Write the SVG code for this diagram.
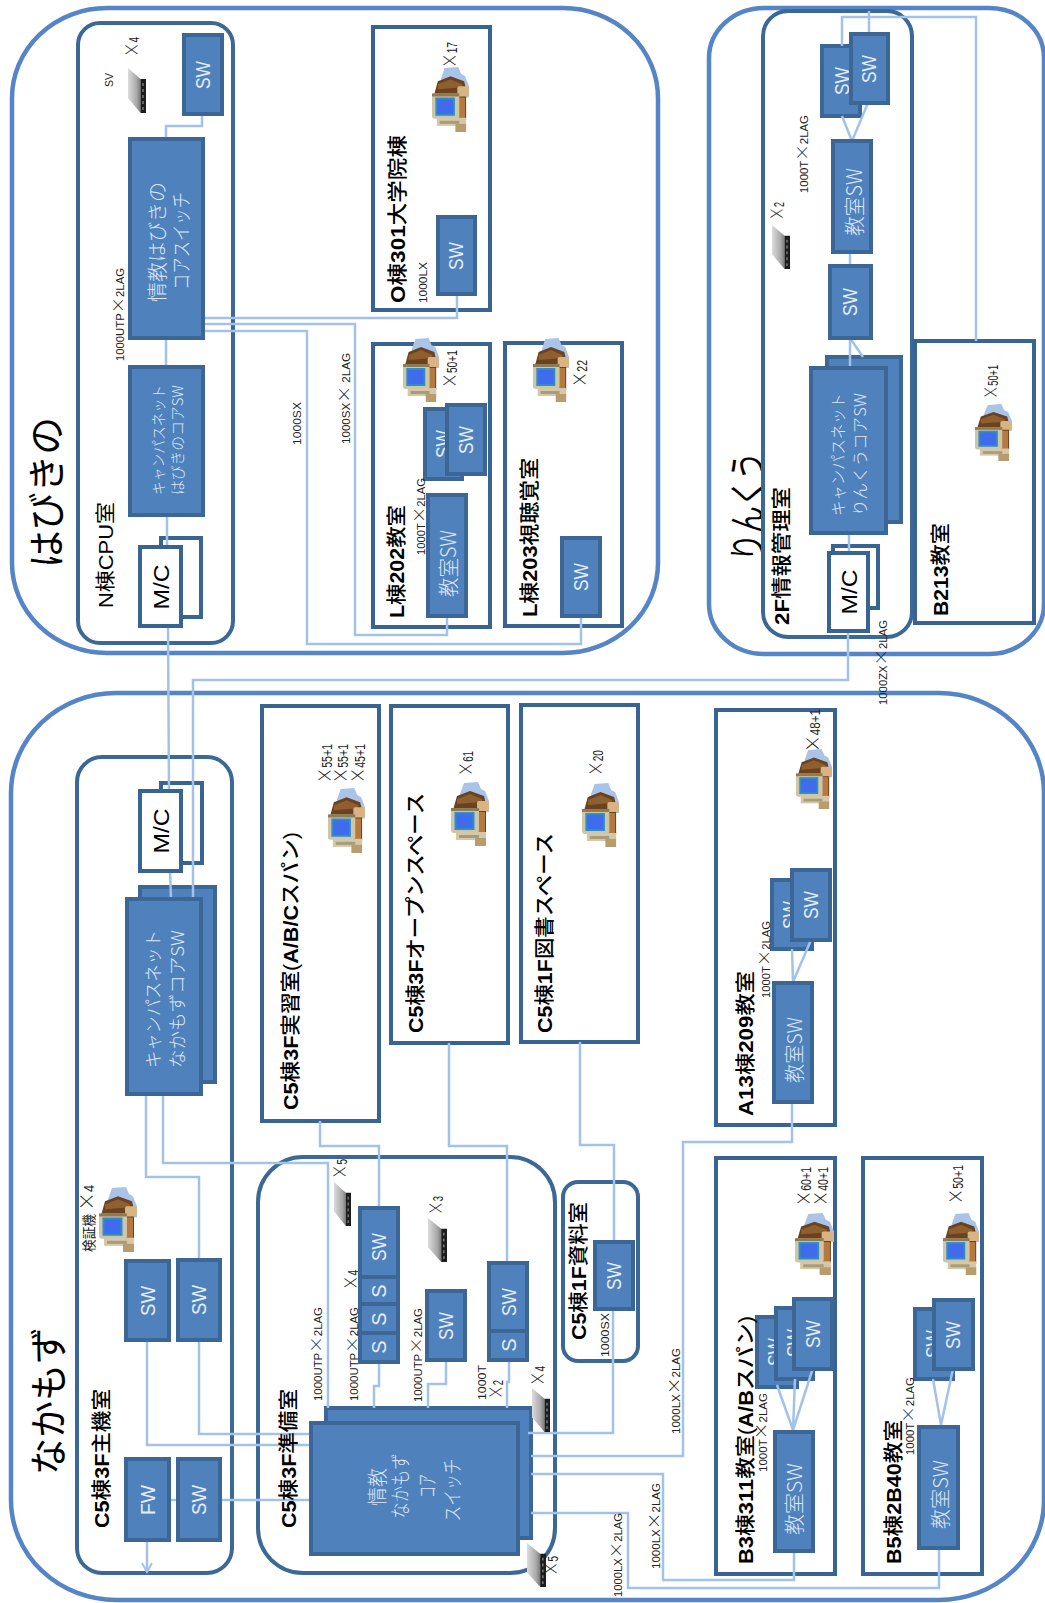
<svg xmlns="http://www.w3.org/2000/svg" width="1045" height="1603" viewBox="0 0 1045 1603">
<style>
text{font-family:"Liberation Sans","Noto Sans CJK JP",sans-serif;fill:#000}
.o{fill:none;stroke:#5585c6;stroke-width:4.500}
.r{fill:none;stroke:#3c6896;stroke-width:4}
.d{fill:#fff;stroke:#386494;stroke-width:4}
.b{fill:#4f81bd;stroke:#3b6696;stroke-width:4}
.w{fill:#fff;stroke:#386494;stroke-width:4}
.l{fill:none;stroke:#a2c2ea;stroke-width:2.500}
.t{font-size:38px;font-family:"Noto Sans CJK JP",sans-serif}
.h{font-size:20px;font-weight:500}
.n{font-size:20px}
.L{font-weight:700}
.s{font-size:11px;fill:#222}
.x{font-size:14px;fill:#222}
.k{font-size:1.450em;font-family:"Noto Sans CJK JP",sans-serif;font-weight:300}
.a{font-size:20px;fill:#e4edf8;text-anchor:middle}
.c{font-size:17px;fill:#dde8f5;font-family:"Noto Sans CJK JP",sans-serif;font-weight:300}
.m{font-size:22px;text-anchor:middle}
</style>
<defs>
<linearGradient id="sg" x1="0" x2="1" y1="0" y2="0"><stop offset="0" stop-color="#dcdcdc"/><stop offset="0.700" stop-color="#a8a8a8"/><stop offset="1" stop-color="#7a7a7a"/></linearGradient>
<symbol id="pc" viewBox="0 0 40 64" preserveAspectRatio="none">
<polygon points="14,1 28,0 31,7 35,9 39,19 39,30 20,30 10,12" fill="#a9c4e8"/>
<polygon points="3,28 7,14 20,9 34,14 36,22 36,52 14,52 3,40" fill="#6b4220"/>
<polygon points="7,17 20,12 32,17 32,20 7,22" fill="#8f5f30"/>
<rect x="27" y="19" width="12" height="10" rx="2" fill="#d8b384"/>
<rect x="28" y="30" width="7" height="21" fill="#b57a3f"/>
<rect x="1" y="26" width="28" height="25" rx="3" fill="#cfc6a8"/>
<rect x="1" y="26" width="28" height="3" fill="#8f7a52"/>
<rect x="4.500" y="30" width="20" height="18" fill="#2d8fc5"/>
<rect x="6.500" y="32" width="16" height="14" fill="#3f6bec"/>
<rect x="6" y="50" width="30" height="8" fill="#d4c8a8"/>
<rect x="9" y="53" width="20" height="3" fill="#a89c7c"/>
<rect x="25" y="56" width="11" height="8" fill="#b99c6e"/>
</symbol>
<symbol id="sv" viewBox="0 0 18 45" preserveAspectRatio="none">
<polygon points="0,0 12.500,11 12.500,45 0,30" fill="url(#sg)"/>
<polygon points="12.500,11 18,11 18,45 12.500,45" fill="#1c1c1c"/>
<path d="M15,15V42" stroke="#777" stroke-width="1.500" stroke-dasharray="3 3" fill="none"/>
</symbol>
<marker id="ah" viewBox="0 0 12 12" refX="10" refY="6" markerWidth="12" markerHeight="12" markerUnits="userSpaceOnUse" orient="auto"><path d="M1,1 L10,6 L1,11" fill="none" stroke="#a2c2ea" stroke-width="2"/></marker>
</defs>
<rect width="1045" height="1603" fill="#fff"/>

<g id="area-habikino"><rect class="o" x="12" y="8" width="646" height="645" rx="95" ry="90"/><text class="t" transform="translate(60 568) rotate(-90)" textLength="151" lengthAdjust="spacingAndGlyphs">はびきの</text></g>
<g id="area-rinku"><rect class="o" x="709" y="8" width="335" height="646" rx="55" ry="50"/><text class="t" transform="translate(761 561) rotate(-90)" textLength="109" lengthAdjust="spacingAndGlyphs">りんくう</text></g>
<g id="area-nakamozu"><rect class="o" x="11" y="693" width="1033" height="907" rx="105" ry="100"/><text class="t" transform="translate(62 1475) rotate(-90)" textLength="148" lengthAdjust="spacingAndGlyphs">なかもず</text></g>

<g id="room-n"><rect class="r" x="78" y="23" width="155" height="620" rx="22"/></g>
<g id="room-2f"><rect class="r" x="763" y="11" width="149" height="626" rx="25"/></g>
<g id="room-c5main"><rect class="r" x="77" y="757" width="155" height="816" rx="25"/></g>
<g id="room-c5prep"><rect class="r" x="258" y="1157" width="297" height="416" rx="45"/></g>
<g id="room-c5mat"><rect class="r" x="563" y="1182" width="75" height="179" rx="15"/></g>
<g id="room-o"><rect class="d" x="373" y="27" width="117" height="283"/></g>
<g id="room-l202"><rect class="d" x="373" y="344" width="117" height="283"/></g>
<g id="room-l203"><rect class="d" x="505" y="343" width="117" height="283"/></g>
<g id="room-b213"><rect class="d" x="915" y="341" width="119" height="282"/></g>
<g id="room-jisshu"><rect class="d" x="262" y="706" width="117" height="415"/></g>
<g id="room-open"><rect class="d" x="391" y="706" width="117" height="337"/></g>
<g id="room-lib"><rect class="d" x="521" y="705" width="117" height="337"/></g>
<g id="room-a13"><rect class="d" x="716" y="710" width="119" height="415"/></g>
<g id="room-b3"><rect class="d" x="716" y="1158" width="119" height="416"/></g>
<g id="room-b5"><rect class="d" x="863" y="1158" width="119" height="416"/></g>

<g id="rear-mc-hab"><rect class="w" x="161" y="538" width="40" height="79"/></g>
<g id="rear-mc-naka"><rect class="w" x="161" y="783" width="41" height="80"/></g>
<g id="rear-mc-rin"><rect class="w" x="833" y="546" width="45" height="62"/></g>
<g id="rear-campus-naka"><rect class="b" x="140" y="887" width="75" height="195"/></g>
<g id="rear-campus-rin"><rect class="b" x="827" y="357" width="74" height="165"/></g>
<g id="rear-core-naka"><rect class="b" x="326" y="1408" width="205" height="130"/></g>
<g id="rear-sw-l202"><rect class="b" x="425" y="409" width="37" height="70"/><text class="a" transform="translate(450 444) rotate(-90)" textLength="28" lengthAdjust="spacingAndGlyphs">SW</text></g>
<g id="rear-sw-rin"><rect class="b" x="822" y="46" width="38" height="70"/><text class="a" transform="translate(849 81) rotate(-90)" textLength="28" lengthAdjust="spacingAndGlyphs">SW</text></g>
<g id="rear-sw-a13"><rect class="b" x="772" y="880" width="40" height="69"/><text class="a" transform="translate(797 915) rotate(-90)" textLength="28" lengthAdjust="spacingAndGlyphs">SW</text></g>
<g id="rear-sw-b3a"><rect class="b" x="757" y="1317" width="40" height="70"/><text class="a" transform="translate(782 1352) rotate(-90)" textLength="28" lengthAdjust="spacingAndGlyphs">SW</text></g>
<g id="rear-sw-b3b"><rect class="b" x="776" y="1308" width="37" height="71"/><text class="a" transform="translate(801 1343) rotate(-90)" textLength="28" lengthAdjust="spacingAndGlyphs">SW</text></g>
<g id="rear-sw-b5"><rect class="b" x="915" y="1309" width="38" height="70"/><text class="a" transform="translate(940 1344) rotate(-90)" textLength="28" lengthAdjust="spacingAndGlyphs">SW</text></g>

<g id="connectors">
<path class="l" d="M202,114V126H166V139"/>
<path class="l" d="M166,338V367"/>
<path class="l" d="M167,515V547"/>
<path class="l" d="M168,626L169,791M170,871L171,899"/>
<path class="l" d="M203,318H457V293"/>
<path class="l" d="M203,324H355V635H447V615"/>
<path class="l" d="M203,331H307V644H581V615"/>
<path class="l" d="M869,34V11"/>
<path class="l" d="M842,46V17H976V341"/>
<path class="l" d="M842,116L852,141L868,103"/>
<path class="l" d="M850,252V266"/>
<path class="l" d="M850,338V368M850,338L863,357"/>
<path class="l" d="M849,533V553"/>
<path class="l" d="M848,631V680H193V899"/>
<path class="l" d="M146,1094V1177H199V1260"/>
<path class="l" d="M163,1094V1163H328V1408"/>
<path class="l" d="M147,1340V1445H311"/>
<path class="l" d="M199,1340V1434H311"/>
<path class="l" d="M169,1500H178M220,1500H311"/>
<path class="l" d="M147,1540V1572" marker-end="url(#ah)"/>
<path class="l" d="M379,1362V1386H374V1408"/>
<path class="l" d="M446,1360V1384H428V1408"/>
<path class="l" d="M509,1360V1382H507V1408"/>
<path class="l" d="M320,1121V1146H379V1208"/>
<path class="l" d="M449,1043V1146H507V1263"/>
<path class="l" d="M580,1042V1145H614V1242"/>
<path class="l" d="M613,1309V1433H528"/>
<path class="l" d="M531,1456H683V1142H792V1102"/>
<path class="l" d="M531,1474H663V1580H794V1551"/>
<path class="l" d="M531,1513H628V1588H939V1548"/>
<path class="l" d="M792,949L793,982L811,940"/>
<path class="l" d="M777,1385L793,1430L795,1379M793,1430L813,1368"/>
<path class="l" d="M933,1379L941,1425L953,1369"/>
</g>

<g id="sw-n"><rect class="b" x="184" y="35" width="38" height="79"/><text class="a" transform="translate(210 75) rotate(-90)" textLength="28" lengthAdjust="spacingAndGlyphs">SW</text></g>
<g id="core-hab"><rect class="b" x="130" y="139" width="73" height="199"/><text class="c" style="font-size:20px" transform="translate(165 302) rotate(-90)" textLength="120" lengthAdjust="spacingAndGlyphs">情教はびきの</text><text class="c" style="font-size:20px" transform="translate(189 290) rotate(-90)" textLength="98" lengthAdjust="spacingAndGlyphs">コアスイッチ</text></g>
<g id="campus-hab"><rect class="b" x="130" y="367" width="73" height="148"/><text class="c" style="font-size:15px" transform="translate(164 495) rotate(-90)" textLength="110" lengthAdjust="spacingAndGlyphs">キャンパスネット</text><text class="c" style="font-size:15px" transform="translate(183 495) rotate(-90)" textLength="110" lengthAdjust="spacingAndGlyphs">はびきのコアSW</text></g>
<g id="mc-hab"><rect class="w" x="140" y="547" width="41" height="79"/><text class="m" transform="translate(169 587) rotate(-90)" textLength="45" lengthAdjust="spacingAndGlyphs">M/C</text></g>
<g id="sw-o"><rect class="b" x="438" y="217" width="37" height="77"/><text class="a" transform="translate(463 256) rotate(-90)" textLength="28" lengthAdjust="spacingAndGlyphs">SW</text></g>
<g id="sw-l202"><rect class="b" x="447" y="405" width="38" height="69"/><text class="a" transform="translate(473 440) rotate(-90)" textLength="28" lengthAdjust="spacingAndGlyphs">SW</text></g>
<g id="csw-l202"><rect class="b" x="428" y="495" width="38" height="121"/><text class="c" style="font-size:21px" transform="translate(456 597) rotate(-90)" textLength="67" lengthAdjust="spacingAndGlyphs">教室SW</text></g>
<g id="sw-l203"><rect class="b" x="562" y="538" width="38" height="78"/><text class="a" transform="translate(588 577) rotate(-90)" textLength="28" lengthAdjust="spacingAndGlyphs">SW</text></g>

<g id="sw-rin1"><rect class="b" x="851" y="34" width="37" height="69"/><text class="a" transform="translate(876 69) rotate(-90)" textLength="28" lengthAdjust="spacingAndGlyphs">SW</text></g>
<g id="csw-rin"><rect class="b" x="833" y="141" width="38" height="111"/><text class="c" style="font-size:21px" transform="translate(862 236) rotate(-90)" textLength="68" lengthAdjust="spacingAndGlyphs">教室SW</text></g>
<g id="sw-rin2"><rect class="b" x="830" y="266" width="41" height="72"/><text class="a" transform="translate(857 302) rotate(-90)" textLength="28" lengthAdjust="spacingAndGlyphs">SW</text></g>
<g id="campus-rin"><rect class="b" x="811" y="368" width="75" height="165"/><text class="c" style="font-size:16px" transform="translate(844 516) rotate(-90)" textLength="123" lengthAdjust="spacingAndGlyphs">キャンパスネット</text><text class="c" style="font-size:16px" transform="translate(866 516) rotate(-90)" textLength="123" lengthAdjust="spacingAndGlyphs">りんくうコアSW</text></g>
<g id="mc-rin"><rect class="w" x="829" y="553" width="39" height="78"/><text class="m" transform="translate(857 592) rotate(-90)" textLength="45" lengthAdjust="spacingAndGlyphs">M/C</text></g>

<g id="mc-naka"><rect class="w" x="140" y="791" width="41" height="80"/><text class="m" transform="translate(169 831) rotate(-90)" textLength="45" lengthAdjust="spacingAndGlyphs">M/C</text></g>
<g id="campus-naka"><rect class="b" x="127" y="899" width="74" height="195"/><text class="c" style="font-size:18px" transform="translate(160 1068) rotate(-90)" textLength="138" lengthAdjust="spacingAndGlyphs">キャンパスネット</text><text class="c" style="font-size:18px" transform="translate(184 1068) rotate(-90)" textLength="138" lengthAdjust="spacingAndGlyphs">なかもずコアSW</text></g>
<g id="sw-m1"><rect class="b" x="126" y="1261" width="43" height="79"/><text class="a" transform="translate(155 1301) rotate(-90)" textLength="30" lengthAdjust="spacingAndGlyphs">SW</text></g>
<g id="sw-m2"><rect class="b" x="178" y="1260" width="42" height="80"/><text class="a" transform="translate(206 1300) rotate(-90)" textLength="30" lengthAdjust="spacingAndGlyphs">SW</text></g>
<g id="fw"><rect class="b" x="126" y="1459" width="43" height="81"/><text class="a" transform="translate(155 1500) rotate(-90)" textLength="30" lengthAdjust="spacingAndGlyphs">FW</text></g>
<g id="sw-m3"><rect class="b" x="178" y="1459" width="42" height="81"/><text class="a" transform="translate(206 1500) rotate(-90)" textLength="30" lengthAdjust="spacingAndGlyphs">SW</text></g>
<g id="core-naka"><rect class="b" x="311" y="1423" width="207" height="131"/>
<text class="c" style="font-size:20px;text-anchor:middle" transform="translate(385 1487) rotate(-90)" textLength="38" lengthAdjust="spacingAndGlyphs">情教</text>
<text class="c" style="font-size:20px;text-anchor:middle" transform="translate(408 1486) rotate(-90)" textLength="65" lengthAdjust="spacingAndGlyphs">なかもず</text>
<text class="c" style="font-size:20px;text-anchor:middle" transform="translate(435 1486) rotate(-90)" textLength="24" lengthAdjust="spacingAndGlyphs">コア</text>
<text class="c" style="font-size:20px;text-anchor:middle" transform="translate(460 1490) rotate(-90)" textLength="63" lengthAdjust="spacingAndGlyphs">スイッチ</text></g>
<g id="stack-1"><rect class="b" x="360" y="1208" width="38" height="154"/><path class="b" style="fill:none" d="M360,1277H398M360,1304H398M360,1333H398"/><text class="a" transform="translate(386 1247) rotate(-90)" textLength="28" lengthAdjust="spacingAndGlyphs">SW</text><text class="a" transform="translate(386 1291) rotate(-90)">S</text><text class="a" transform="translate(386 1319) rotate(-90)">S</text><text class="a" transform="translate(386 1347) rotate(-90)">S</text></g>
<g id="sw-prep"><rect class="b" x="427" y="1291" width="38" height="69"/><text class="a" transform="translate(453 1326) rotate(-90)" textLength="28" lengthAdjust="spacingAndGlyphs">SW</text></g>
<g id="stack-2"><rect class="b" x="489" y="1263" width="38" height="97"/><path class="b" style="fill:none" d="M489,1331H527"/><text class="a" transform="translate(516 1302) rotate(-90)" textLength="28" lengthAdjust="spacingAndGlyphs">SW</text><text class="a" transform="translate(516 1345) rotate(-90)">S</text></g>
<g id="sw-mat"><rect class="b" x="595" y="1242" width="38" height="67"/><text class="a" transform="translate(621 1276) rotate(-90)" textLength="28" lengthAdjust="spacingAndGlyphs">SW</text></g>
<g id="sw-a13"><rect class="b" x="792" y="870" width="38" height="70"/><text class="a" transform="translate(818 905) rotate(-90)" textLength="28" lengthAdjust="spacingAndGlyphs">SW</text></g>
<g id="csw-a13"><rect class="b" x="774" y="983" width="38" height="119"/><text class="c" style="font-size:20px" transform="translate(802 1083) rotate(-90)" textLength="66" lengthAdjust="spacingAndGlyphs">教室SW</text></g>
<g id="sw-b3"><rect class="b" x="794" y="1299" width="38" height="70"/><text class="a" transform="translate(820 1334) rotate(-90)" textLength="28" lengthAdjust="spacingAndGlyphs">SW</text></g>
<g id="csw-b3"><rect class="b" x="775" y="1432" width="38" height="119"/><text class="c" style="font-size:20px" transform="translate(802 1535) rotate(-90)" textLength="72" lengthAdjust="spacingAndGlyphs">教室SW</text></g>
<g id="sw-b5"><rect class="b" x="934" y="1300" width="39" height="69"/><text class="a" transform="translate(960 1335) rotate(-90)" textLength="28" lengthAdjust="spacingAndGlyphs">SW</text></g>
<g id="csw-b5"><rect class="b" x="919" y="1427" width="39" height="121"/><text class="c" style="font-size:20px" transform="translate(948 1529) rotate(-90)" textLength="69" lengthAdjust="spacingAndGlyphs">教室SW</text></g>

<g id="pcs">
<use href="#pc" x="431" y="67" width="39" height="65"/>
<use href="#pc" x="402" y="338" width="38" height="64"/>
<use href="#pc" x="532" y="338" width="38" height="64"/>
<use href="#pc" x="974" y="404" width="39" height="57"/>
<use href="#pc" x="327" y="788" width="39" height="65"/>
<use href="#pc" x="450" y="782" width="40" height="64"/>
<use href="#pc" x="581" y="783" width="39" height="64"/>
<use href="#pc" x="795" y="749" width="38" height="60"/>
<use href="#pc" x="794" y="1213" width="41" height="62"/>
<use href="#pc" x="942" y="1213" width="38" height="62"/>
<use href="#pc" x="98" y="1187" width="40" height="65"/>
</g>
<g id="servers">
<use href="#sv" x="128" y="68" width="18" height="45"/>
<use href="#sv" x="772" y="225" width="18" height="44"/>
<use href="#sv" x="334" y="1182" width="17" height="44"/>
<use href="#sv" x="428" y="1218" width="19" height="44"/>
<use href="#sv" x="532" y="1388" width="18" height="44"/>
<use href="#sv" x="527" y="1543" width="19" height="44"/>
</g>

<g id="labels">
<text class="n" transform="translate(113 608) rotate(-90)" textLength="106" lengthAdjust="spacingAndGlyphs">N棟CPU室</text>
<text class="h" transform="translate(405 303) rotate(-90)" textLength="168" lengthAdjust="spacingAndGlyphs"><tspan class="L">O</tspan>棟<tspan class="L">301</tspan>大学院棟</text>
<text class="h" transform="translate(404 618) rotate(-90)" textLength="113" lengthAdjust="spacingAndGlyphs"><tspan class="L">L</tspan>棟<tspan class="L">202</tspan>教室</text>
<text class="h" transform="translate(537 617) rotate(-90)" textLength="159" lengthAdjust="spacingAndGlyphs"><tspan class="L">L</tspan>棟<tspan class="L">203</tspan>視聴覚室</text>
<text class="h" transform="translate(789 625) rotate(-90)" textLength="138" lengthAdjust="spacingAndGlyphs"><tspan class="L">2F</tspan>情報管理室</text>
<text class="h" transform="translate(948 616) rotate(-90)" textLength="93" lengthAdjust="spacingAndGlyphs"><tspan class="L">B213</tspan>教室</text>
<text class="h" transform="translate(109 1528) rotate(-90)" textLength="139" lengthAdjust="spacingAndGlyphs"><tspan class="L">C5</tspan>棟<tspan class="L">3F</tspan>主機室</text>
<text class="h" transform="translate(296 1528) rotate(-90)" textLength="139" lengthAdjust="spacingAndGlyphs"><tspan class="L">C5</tspan>棟<tspan class="L">3F</tspan>準備室</text>
<text class="h" transform="translate(298 1110) rotate(-90)" textLength="278" lengthAdjust="spacingAndGlyphs"><tspan class="L">C5</tspan>棟<tspan class="L">3F</tspan>実習室(<tspan class="L">A/B/C</tspan>スパン)</text>
<text class="h" transform="translate(423 1033) rotate(-90)" textLength="240" lengthAdjust="spacingAndGlyphs"><tspan class="L">C5</tspan>棟<tspan class="L">3F</tspan>オープンスペース</text>
<text class="h" transform="translate(552 1033) rotate(-90)" textLength="200" lengthAdjust="spacingAndGlyphs"><tspan class="L">C5</tspan>棟<tspan class="L">1F</tspan>図書スペース</text>
<text class="h" transform="translate(586 1340) rotate(-90)" textLength="138" lengthAdjust="spacingAndGlyphs"><tspan class="L">C5</tspan>棟<tspan class="L">1F</tspan>資料室</text>
<text class="h" transform="translate(753 1116) rotate(-90)" textLength="145" lengthAdjust="spacingAndGlyphs"><tspan class="L">A13</tspan>棟<tspan class="L">209</tspan>教室</text>
<text class="h" transform="translate(753 1564) rotate(-90)" textLength="248" lengthAdjust="spacingAndGlyphs"><tspan class="L">B3</tspan>棟<tspan class="L">311</tspan>教室(<tspan class="L">A/B</tspan>スパン)</text>
<text class="h" transform="translate(901 1564) rotate(-90)" textLength="144" lengthAdjust="spacingAndGlyphs"><tspan class="L">B5</tspan>棟<tspan class="L">2B40</tspan>教室</text>

<text class="s" transform="translate(124 361) rotate(-90)" textLength="93" lengthAdjust="spacingAndGlyphs">1000UTP<tspan class="k">×</tspan>2LAG</text>
<text class="s" transform="translate(427 303) rotate(-90)" textLength="41" lengthAdjust="spacingAndGlyphs">1000LX</text>
<text class="s" transform="translate(301 445) rotate(-90)" textLength="43" lengthAdjust="spacingAndGlyphs">1000SX</text>
<text class="s" transform="translate(350 444) rotate(-90)" textLength="91" lengthAdjust="spacingAndGlyphs">1000SX<tspan class="k">×</tspan> 2LAG</text>
<text class="s" transform="translate(425 555) rotate(-90)" textLength="77" lengthAdjust="spacingAndGlyphs">1000T<tspan class="k">×</tspan>2LAG</text>
<text class="s" transform="translate(808 193) rotate(-90)" textLength="78" lengthAdjust="spacingAndGlyphs">1000T<tspan class="k">×</tspan>2LAG</text>
<text class="s" transform="translate(887 705) rotate(-90)" textLength="85" lengthAdjust="spacingAndGlyphs">1000ZX<tspan class="k">×</tspan>2LAG</text>
<text class="s" transform="translate(322 1401) rotate(-90)" textLength="94" lengthAdjust="spacingAndGlyphs">1000UTP<tspan class="k">×</tspan>2LAG</text>
<text class="s" transform="translate(358 1401) rotate(-90)" textLength="94" lengthAdjust="spacingAndGlyphs">1000UTP<tspan class="k">×</tspan>2LAG</text>
<text class="s" transform="translate(422 1402) rotate(-90)" textLength="94" lengthAdjust="spacingAndGlyphs">1000UTP<tspan class="k">×</tspan>2LAG</text>
<text class="s" transform="translate(486 1400) rotate(-90)" textLength="35" lengthAdjust="spacingAndGlyphs">1000T</text>
<text class="s" transform="translate(609 1357) rotate(-90)" textLength="44" lengthAdjust="spacingAndGlyphs">1000SX</text>
<text class="s" transform="translate(770 998) rotate(-90)" textLength="77" lengthAdjust="spacingAndGlyphs">1000T<tspan class="k">×</tspan>2LAG</text>
<text class="s" transform="translate(767 1472) rotate(-90)" textLength="79" lengthAdjust="spacingAndGlyphs">1000T<tspan class="k">×</tspan>2LAG</text>
<text class="s" transform="translate(914 1455) rotate(-90)" textLength="78" lengthAdjust="spacingAndGlyphs">1000T<tspan class="k">×</tspan>2LAG</text>
<text class="s" transform="translate(680 1434) rotate(-90)" textLength="86" lengthAdjust="spacingAndGlyphs">1000LX<tspan class="k">×</tspan>2LAG</text>
<text class="s" transform="translate(660 1569) rotate(-90)" textLength="86" lengthAdjust="spacingAndGlyphs">1000LX<tspan class="k">×</tspan>2LAG</text>
<text class="s" transform="translate(622 1597) rotate(-90)" textLength="84" lengthAdjust="spacingAndGlyphs">1000LX<tspan class="k">×</tspan>2LAG</text>
<text class="s" transform="translate(113 87) rotate(-90)" textLength="14" lengthAdjust="spacingAndGlyphs">SV</text>

<text class="x" transform="translate(139 57) rotate(-90)" textLength="20" lengthAdjust="spacingAndGlyphs"><tspan class="k">×</tspan>4</text>
<text class="x" transform="translate(457 68) rotate(-90)" textLength="26" lengthAdjust="spacingAndGlyphs"><tspan class="k">×</tspan>17</text>
<text class="x" transform="translate(457 388) rotate(-90)" textLength="38" lengthAdjust="spacingAndGlyphs"><tspan class="k">×</tspan>50+1</text>
<text class="x" transform="translate(587 387) rotate(-90)" textLength="27" lengthAdjust="spacingAndGlyphs"><tspan class="k">×</tspan>22</text>
<text class="x" transform="translate(784 220) rotate(-90)" textLength="18" lengthAdjust="spacingAndGlyphs"><tspan class="k">×</tspan>2</text>
<text class="x" transform="translate(998 399) rotate(-90)" textLength="34" lengthAdjust="spacingAndGlyphs"><tspan class="k">×</tspan>50+1</text>
<text class="x" transform="translate(332 783) rotate(-90)" textLength="39" lengthAdjust="spacingAndGlyphs"><tspan class="k">×</tspan>55+1</text>
<text class="x" transform="translate(348 783) rotate(-90)" textLength="39" lengthAdjust="spacingAndGlyphs"><tspan class="k">×</tspan>55+1</text>
<text class="x" transform="translate(365 783) rotate(-90)" textLength="39" lengthAdjust="spacingAndGlyphs"><tspan class="k">×</tspan>45+1</text>
<text class="x" transform="translate(473 776) rotate(-90)" textLength="25" lengthAdjust="spacingAndGlyphs"><tspan class="k">×</tspan>61</text>
<text class="x" transform="translate(603 776) rotate(-90)" textLength="26" lengthAdjust="spacingAndGlyphs"><tspan class="k">×</tspan>20</text>
<text class="x" transform="translate(820 752) rotate(-90)" textLength="43" lengthAdjust="spacingAndGlyphs"><tspan class="k">×</tspan>48+1</text>
<text class="x" transform="translate(811 1206) rotate(-90)" textLength="39" lengthAdjust="spacingAndGlyphs"><tspan class="k">×</tspan>60+1</text>
<text class="x" transform="translate(828 1206) rotate(-90)" textLength="39" lengthAdjust="spacingAndGlyphs"><tspan class="k">×</tspan>40+1</text>
<text class="x" transform="translate(963 1204) rotate(-90)" textLength="39" lengthAdjust="spacingAndGlyphs"><tspan class="k">×</tspan>50+1</text>
<text class="x" transform="translate(94 1252) rotate(-90)" textLength="67" lengthAdjust="spacingAndGlyphs">検証機 <tspan class="k">×</tspan>4</text>
<text class="x" transform="translate(347 1179) rotate(-90)" textLength="20" lengthAdjust="spacingAndGlyphs"><tspan class="k">×</tspan>5</text>
<text class="x" transform="translate(358 1290) rotate(-90)" textLength="20" lengthAdjust="spacingAndGlyphs"><tspan class="k">×</tspan>4</text>
<text class="x" transform="translate(443 1215) rotate(-90)" textLength="19" lengthAdjust="spacingAndGlyphs"><tspan class="k">×</tspan>3</text>
<text class="x" transform="translate(503 1399) rotate(-90)" textLength="19" lengthAdjust="spacingAndGlyphs"><tspan class="k">×</tspan>2</text>
<text class="x" transform="translate(545 1386) rotate(-90)" textLength="20" lengthAdjust="spacingAndGlyphs"><tspan class="k">×</tspan>4</text>
<text class="x" transform="translate(558 1576) rotate(-90)" textLength="20" lengthAdjust="spacingAndGlyphs"><tspan class="k">×</tspan>5</text>
</g>
</svg>
